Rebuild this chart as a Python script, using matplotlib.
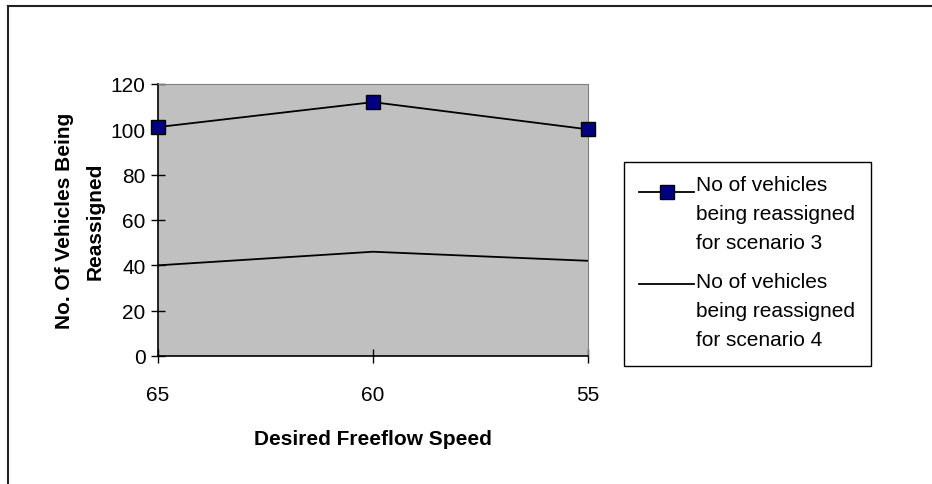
import matplotlib.pyplot as plt
from matplotlib.lines import Line2D
from matplotlib.patches import Rectangle

plt.rcParams['font.family'] = ['Liberation Sans', 'DejaVu Sans']

speeds = ['65', '60', '55']
scenario3 = [101, 112, 100]
scenario4 = [40, 46, 42]
labels = ['No of vehicles\nbeing reassigned\nfor scenario 3',
          'No of vehicles\nbeing reassigned\nfor scenario 4']

W, H = 932, 485
fig = plt.figure(figsize=(W / 100, H / 100), dpi=100)
ax = fig.add_axes([158 / W, 1 - 357 / H, (588 - 158) / W, (357 - 85) / H])
ax.set_facecolor('#c0c0c0')

line_style = dict(color='black', lw=1.3)
s3_style = dict(marker='s', markersize=10, markerfacecolor='#000080',
                markeredgecolor='black', markeredgewidth=1)

x = range(len(speeds))
ax.plot(x, scenario3, clip_on=False, zorder=3, **line_style, **s3_style)
ax.plot(x, scenario4, clip_on=False, **line_style)

ax.set_xlim(0, 2)
ax.set_ylim(0, 120)
ax.set_yticks(range(0, 121, 20))
ax.set_xticks(list(x))
ax.set_xticklabels(speeds)
ax.tick_params(direction='inout', length=10, width=1, labelsize=15, pad=4)
ax.tick_params(axis='x', pad=16)
for s in ['top', 'right']:
    ax.spines[s].set_color('#808080')
for s in ['left', 'bottom']:
    ax.spines[s].set_color('black')
    ax.spines[s].set_linewidth(1.2)

ax.set_xlabel('Desired Freeflow Speed', fontsize=15, fontweight='bold', labelpad=18)
fig.text(65 / W, 1 - 221 / H, 'No. Of Vehicles Being', rotation=90,
         fontsize=15, fontweight='bold', ha='center', va='center')
fig.text(95 / W, 1 - 221 / H, 'Reassigned', rotation=90,
         fontsize=15, fontweight='bold', ha='center', va='center')

# legend box, handle sitting beside the first line of each label
fig.add_artist(Rectangle((624 / W, 1 - 367 / H), (871 - 624) / W, (367 - 163) / H,
                         facecolor='white', edgecolor='black', lw=1,
                         transform=fig.transFigure))
entries = [(labels[0], s3_style, 193, 176), (labels[1], None, 285, 273)]
for text, mstyle, hy, ty in entries:
    fig.add_artist(Line2D([639 / W, 694 / W], [1 - hy / H] * 2, **line_style))
    if mstyle:
        fig.add_artist(Line2D([666.5 / W], [1 - hy / H], linestyle='none', **mstyle))
    fig.text(696 / W, 1 - ty / H, text, fontsize=15, ha='left', va='top',
             linespacing=1.68)

# outer chart frame
fig.add_artist(Line2D([8 / W, 1], [1 - 7 / H, 1 - 7 / H], color='#222222', lw=1.5))
fig.add_artist(Line2D([8 / W, 8 / W], [0, 1 - 7 / H], color='#222222', lw=1.5))

fig.savefig('out.png', dpi=100)
